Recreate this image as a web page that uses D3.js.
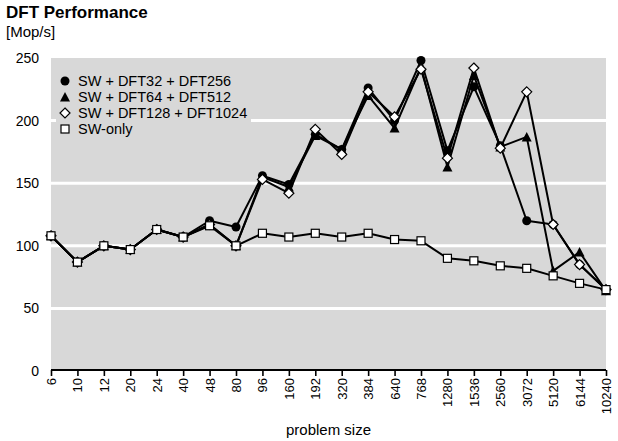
<!DOCTYPE html>
<html>
<head>
<meta charset="utf-8">
<script src="https://cdn.jsdelivr.net/npm/d3@7"></script>
<style>
  body { margin: 0; background: #fff; }
  svg { font-family: "Liberation Sans", Arial, sans-serif; }
</style>
</head>
<body>
<script>
const svgWidth = 618,
    svgHeight = 441,
    plot = { left: 51, right: 606, top: 58, bottom: 371 };

// problem sizes (x categories)
const sizes = ["6", "10", "12", "20", "24", "40", "48", "80", "96", "160", "192",
    "320", "384", "640", "768", "1280", "1536", "2560", "3072", "5120", "6144", "10240"];

// Mop/s per series
const dft32 = [108, 87, 100, 97, 113, 107, 120, 115, 156, 149, 189, 177, 226, 200, 248, 176, 227, 180, 120, 117, 85, 65];
const dft64 = [108, 87, 100, 97, 113, 107, 117, 100, 155, 147, 188, 177, 220, 194, 243, 163, 236, 179, 187, 80, 95, 64];
const dft128 = [108, 87, 100, 97, 113, 107, 117, 100, 153, 142, 193, 173, 223, 203, 241, 170, 242, 178, 223, 117, 85, 65];
const swOnly = [108, 87, 100, 97, 113, 107, 116, 100, 110, 107, 110, 107, 110, 105, 104, 90, 88, 84, 82, 76, 70, 65];

const seriesNames = ["SW + DFT32 + DFT256", "SW + DFT64 + DFT512", "SW + DFT128 + DFT1024", "SW-only"];
const yTicks = [0, 50, 100, 150, 200, 250];

const series = [
    { name: seriesNames[0], values: dft32, marker: "circle" },
    { name: seriesNames[1], values: dft64, marker: "triangle" },
    { name: seriesNames[2], values: dft128, marker: "diamond" },
    { name: seriesNames[3], values: swOnly, marker: "square" }
];

const grey = "#d8d8d8";

var svg = d3.select("body").append("svg")
    .attr("width", svgWidth)
    .attr("height", svgHeight);

var x = d3.scalePoint()
    .domain(sizes)
    .range([plot.left, plot.right]);

var y = d3.scaleLinear()
    .domain([0, 250])
    .range([plot.bottom, plot.top]);

// title
svg.append("text")
    .attr("x", 6).attr("y", 18)
    .attr("font-size", 17).attr("font-weight", "bold")
    .text("DFT Performance");
svg.append("text")
    .attr("x", 6).attr("y", 37)
    .attr("font-size", 15)
    .text("[Mop/s]");

// plot background
svg.append("rect")
    .attr("x", plot.left).attr("y", plot.top)
    .attr("width", plot.right - plot.left)
    .attr("height", plot.bottom - plot.top)
    .attr("fill", grey);

// white gridlines
svg.append("g")
    .selectAll("line")
    .data(yTicks.filter(d => d > 0 && d < 250))
    .enter().append("line")
    .attr("x1", plot.left).attr("x2", plot.right)
    .attr("y1", d => y(d)).attr("y2", d => y(d))
    .attr("stroke", "#fff")
    .attr("stroke-width", 3);

// y axis labels
svg.append("g")
    .selectAll("text")
    .data(yTicks)
    .enter().append("text")
    .attr("x", 39)
    .attr("y", d => y(d))
    .attr("dy", "0.35em")
    .attr("text-anchor", "end")
    .attr("font-size", 14)
    .text(d => d);

// x axis
var xAxis = svg.append("g")
    .attr("transform", "translate(0," + (plot.bottom - 1) + ")")
    .call(d3.axisBottom(x).tickSize(6).tickPadding(0));
xAxis.select(".domain").attr("stroke", "#000").attr("stroke-width", 2)
    .attr("d", "M" + plot.left + ",0H" + plot.right);
xAxis.selectAll(".tick line").attr("stroke", "#000").attr("stroke-width", 1.6);
xAxis.selectAll(".tick text")
    .attr("font-family", "Liberation Sans, Arial, sans-serif")
    .attr("font-size", 13)
    .attr("fill", "#000")
    .attr("transform", "rotate(-90)")
    .attr("text-anchor", "end")
    .attr("x", -8)
    .attr("y", 0)
    .attr("dy", "0.35em");

svg.append("text")
    .attr("x", (plot.left + plot.right) / 2)
    .attr("y", 435)
    .attr("text-anchor", "middle")
    .attr("font-size", 15)
    .text("problem size");

// lines
var line = d3.line()
    .x((d, i) => x(sizes[i]))
    .y(d => y(d));

svg.append("g")
    .selectAll("path")
    .data(series.slice().reverse())
    .enter().append("path")
    .attr("d", d => line(d.values))
    .attr("fill", "none")
    .attr("stroke", "#000")
    .attr("stroke-width", 2)
    .attr("stroke-linejoin", "round");

// marker shapes
function drawMarker(sel, type) {
    if (type === "circle") {
        sel.append("circle").attr("r", 4.5).attr("fill", "#000");
    } else if (type === "triangle") {
        sel.append("path").attr("d", "M0,-5L5,4.5L-5,4.5Z").attr("fill", "#000");
    } else if (type === "diamond") {
        sel.append("path").attr("d", "M0,-5L5,0L0,5L-5,0Z")
            .attr("fill", "#fff").attr("stroke", "#000").attr("stroke-width", 1.2);
    } else {
        sel.append("rect").attr("x", -4).attr("y", -4).attr("width", 8).attr("height", 8)
            .attr("fill", "#fff").attr("stroke", "#000").attr("stroke-width", 1.2);
    }
}

series.forEach(function (s) {
    svg.append("g")
        .selectAll("g")
        .data(s.values)
        .enter().append("g")
        .attr("transform", (d, i) => "translate(" + x(sizes[i]) + "," + y(d) + ")")
        .each(function () { drawMarker(d3.select(this), s.marker); });
});

// legend
var legend = svg.append("g");
legend.append("rect")
    .attr("x", 56).attr("y", 63)
    .attr("width", 195).attr("height", 76)
    .attr("fill", grey);

var item = legend.selectAll(".item")
    .data(series)
    .enter().append("g")
    .attr("class", "item")
    .attr("transform", (d, i) => "translate(65," + (81 + i * 16) + ")");
item.each(function (d) { drawMarker(d3.select(this), d.marker); });
item.append("text")
    .attr("x", 13)
    .attr("dy", "0.35em")
    .attr("font-size", 14.5)
    .text(d => d.name);
</script>
</body>
</html>
